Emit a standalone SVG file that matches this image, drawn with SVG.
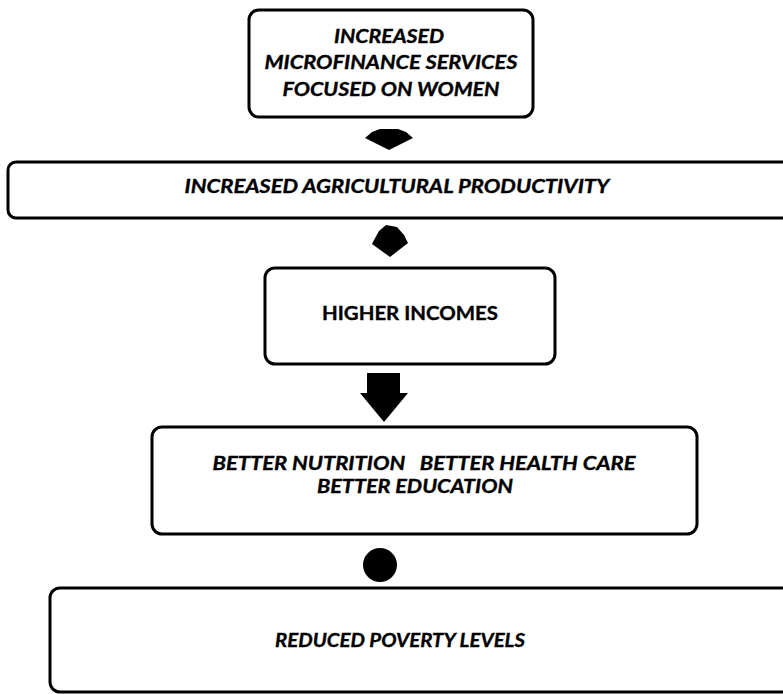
<svg xmlns="http://www.w3.org/2000/svg" width="783" height="694" viewBox="0 0 783 694">
  <style>
    .box { fill: #ffffff; stroke: #000000; stroke-width: 3; }
    .lbl { font-family: Lato, "Open Sans", "Liberation Sans", sans-serif; font-weight: bold; font-style: italic; font-size: 19px; fill: #000000; stroke: #000000; stroke-width: 0.35; text-anchor: middle; }
    .up { font-style: normal; }
    .arrow { fill: #000000; stroke: none; }
  </style>
  <rect width="783" height="694" fill="#ffffff"/>

  <g id="node-microfinance">
    <rect class="box" x="249" y="10" width="284" height="107" rx="10"/>
    <text class="lbl" x="389" y="43" textLength="110" lengthAdjust="spacingAndGlyphs">INCREASED</text>
    <text class="lbl" x="391" y="69" textLength="253" lengthAdjust="spacingAndGlyphs">MICROFINANCE SERVICES</text>
    <text class="lbl" x="391" y="96" textLength="217" lengthAdjust="spacingAndGlyphs">FOCUSED ON WOMEN</text>
  </g>

  <g id="node-agriculture">
    <rect class="box" x="8" y="162" width="790" height="56" rx="8"/>
    <text class="lbl" x="397" y="193" textLength="425" lengthAdjust="spacingAndGlyphs">INCREASED AGRICULTURAL PRODUCTIVITY</text>
  </g>

  <g id="node-incomes">
    <rect class="box" x="265" y="268" width="290" height="96" rx="10"/>
    <text class="lbl up" x="410" y="320" font-size="18" textLength="176" lengthAdjust="spacingAndGlyphs">HIGHER INCOMES</text>
  </g>

  <g id="node-wellbeing">
    <rect class="box" x="152" y="427" width="545" height="107" rx="10"/>
    <text class="lbl" x="424" y="470" font-size="18" textLength="423" lengthAdjust="spacingAndGlyphs" xml:space="preserve">BETTER NUTRITION   BETTER HEALTH CARE</text>
    <text class="lbl" x="415" y="493" font-size="18" textLength="196" lengthAdjust="spacingAndGlyphs">BETTER EDUCATION</text>
  </g>

  <g id="node-poverty">
    <rect class="box" x="50" y="588" width="760" height="104" rx="10"/>
    <text class="lbl" x="400" y="647" textLength="250" lengthAdjust="spacingAndGlyphs">REDUCED POVERTY LEVELS</text>
  </g>

  <g id="connectors">
    <polygon class="arrow" points="365,138 372,132 380,129 398,129 406,132 413,138 389,150"/>
    <polygon class="arrow" points="374,240 379,231 386,225 397,227 404,235 408,243 390,257 372,244"/>
    <polygon class="arrow" points="367,373 400,373 400,393 408,393 384,422 360,393 367,393"/>
    <circle class="arrow" cx="380" cy="565" r="17"/>
  </g>
</svg>
